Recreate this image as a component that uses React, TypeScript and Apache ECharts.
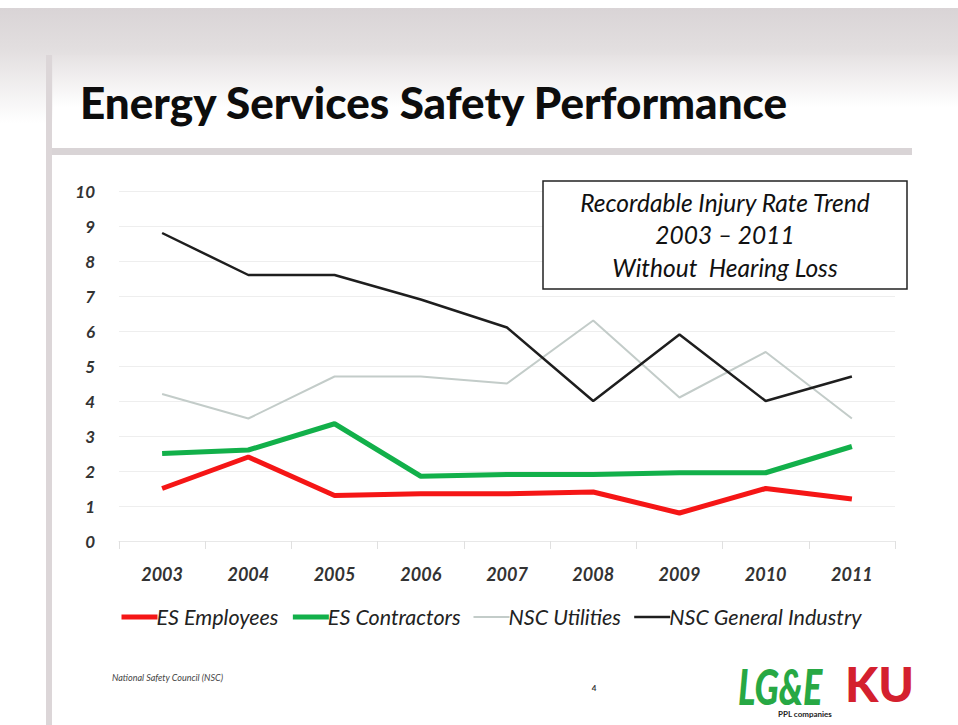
import React, { useEffect, useRef } from "react";
import * as echarts from "echarts";

const years = ["2003", "2004", "2005", "2006", "2007", "2008", "2009", "2010", "2011"];
const esEmployees = [1.5, 2.4, 1.3, 1.35, 1.35, 1.4, 0.8, 1.5, 1.2];
const esContractors = [2.5, 2.6, 3.35, 1.85, 1.9, 1.9, 1.95, 1.95, 2.7];
const nscUtilities = [4.2, 3.5, 4.7, 4.7, 4.5, 6.3, 4.1, 5.4, 3.5];
const nscGeneral = [8.8, 7.6, 7.6, 6.9, 6.1, 4.0, 5.9, 4.0, 4.7];
const boxLines = ["Recordable Injury Rate Trend", "2003 \u2013 2011", "Without  Hearing Loss"];

const FONT = "Lato, 'Open Sans', sans-serif";

export default function App() {
  const ref = useRef<HTMLDivElement>(null);
  useEffect(() => {
    document.body.style.margin = "0";
    const chart = echarts.init(ref.current!, undefined, { renderer: "svg" });
    const mk = (name: string, data: number[], color: string, width: number) => ({
      name,
      type: "line",
      data,
      symbol: "none",
      showSymbol: false,
      lineStyle: { color, width },
      itemStyle: { color },
      z: 5,
    });
    chart.setOption({
      animation: false,
      backgroundColor: "#ffffff",
      grid: { left: 119, right: 63, top: 191, bottom: 184 },
      xAxis: {
        type: "category",
        data: years,
        boundaryGap: true,
        axisLine: { show: true, lineStyle: { color: "#e8e8e8", width: 1 } },
        axisTick: { show: true, length: 8, lineStyle: { color: "#e0e0e0" } },
        axisLabel: {
          margin: 24,
          fontFamily: FONT,
          fontStyle: "italic",
          fontWeight: "bold",
          fontSize: 18,
          color: "#333333",
        },
      },
      yAxis: {
        type: "value",
        min: 0,
        max: 10,
        interval: 1,
        axisLine: { show: false },
        axisTick: { show: false },
        splitLine: { lineStyle: { color: "#eeeeee", width: 1 } },
        axisLabel: {
          margin: 24,
          fontFamily: FONT,
          fontStyle: "italic",
          fontWeight: "bold",
          fontSize: 17,
          color: "#333333",
        },
      },
      legend: {
        top: 601,
        left: 114,
        itemWidth: 36,
        itemHeight: 14,
        itemGap: 12,
        itemStyle: { opacity: 0 },
        textStyle: {
          fontFamily: FONT,
          fontStyle: "italic",
          fontSize: 21.5,
          color: "#222222",
          padding: [0, 0, 0, -6],
        },
        data: [
          { name: "ES Employees", lineStyle: { width: 5 } },
          { name: "ES Contractors", lineStyle: { width: 5 } },
          { name: "NSC Utilities", lineStyle: { width: 2 } },
          { name: "NSC General Industry", lineStyle: { width: 2.5 } },
        ],
      },
      series: [
        mk("ES Employees", esEmployees, "#f51616", 5),
        mk("ES Contractors", esContractors, "#12b04a", 5),
        mk("NSC Utilities", nscUtilities, "#c3ccc9", 2),
        mk("NSC General Industry", nscGeneral, "#1e1e1e", 2.5),
      ],
      graphic: [
        {
          type: "rect",
          silent: true,
          z: -10,
          shape: { x: 0, y: 8, width: 958, height: 115 },
          style: {
            fill: new echarts.graphic.LinearGradient(0, 0, 0, 1, [
              { offset: 0, color: "#d9d4d6" },
              { offset: 0.35, color: "#e2dedf" },
              { offset: 1, color: "#ffffff" },
            ]),
          },
        },
        {
          type: "rect",
          silent: true,
          z: -9,
          shape: { x: 53, y: 55, width: 905, height: 95 },
          style: {
            fill: new echarts.graphic.LinearGradient(0, 0, 0, 1, [
              { offset: 0, color: "#e6e2e3" },
              { offset: 0.55, color: "#ffffff" },
              { offset: 1, color: "#ffffff" },
            ]),
          },
        },
        {
          type: "rect",
          silent: true,
          z: -8,
          shape: { x: 46, y: 55, width: 6, height: 670 },
          style: { fill: "#dcd6d8" },
        },
        {
          type: "rect",
          silent: true,
          z: -8,
          shape: { x: 52, y: 148, width: 860, height: 7 },
          style: { fill: "#d9d4d6" },
        },
        {
          type: "text",
          x: 80,
          y: 102,
          style: {
            text: "Energy Services Safety Performance",
            fontFamily: FONT,
            fontWeight: 900,
            fontSize: 44,
            fill: "#0d0d0d",
            textVerticalAlign: "middle",
          },
        },
        {
          type: "rect",
          z: 10,
          shape: { x: 543, y: 181, width: 364, height: 108 },
          style: { fill: "#ffffff", stroke: "#222222", lineWidth: 1.5 },
        },
        ...boxLines.map((t, i) => ({
          type: "text",
          z: 11,
          x: 725,
          y: 202 + i * 32.5,
          style: {
            text: t,
            fontFamily: FONT,
            fontStyle: "italic",
            fontSize: 24.5,
            fill: "#111111",
            textAlign: "center",
            textVerticalAlign: "middle",
          },
        })),
        {
          type: "text",
          x: 112,
          y: 677,
          style: {
            text: "National Safety Council (NSC)",
            fontFamily: FONT,
            fontStyle: "italic",
            fontSize: 9,
            fill: "#444444",
            textVerticalAlign: "middle",
          },
        },
        {
          type: "text",
          x: 594,
          y: 688,
          style: {
            text: "4",
            fontFamily: FONT,
            fontWeight: "bold",
            fontSize: 8,
            fill: "#333333",
            textAlign: "center",
            textVerticalAlign: "middle",
          },
        },
        {
          type: "text",
          x: 738,
          y: 685,
          scaleX: 0.72,
          style: {
            text: "LG&E",
            fontFamily: FONT,
            fontStyle: "italic",
            fontWeight: 900,
            fontSize: 50,
            fill: "#27a844",
            textVerticalAlign: "middle",
          },
        },
        {
          type: "text",
          x: 845,
          y: 683,
          style: {
            text: "KU",
            fontFamily: FONT,
            fontWeight: 900,
            fontSize: 48,
            fill: "#d4202e",
            textVerticalAlign: "middle",
          },
        },
        {
          type: "text",
          x: 805,
          y: 714,
          style: {
            text: "PPL companies",
            fontFamily: FONT,
            fontWeight: "bold",
            fontSize: 8,
            fill: "#222222",
            textAlign: "center",
            textVerticalAlign: "middle",
          },
        },
      ],
    });
    return () => chart.dispose();
  }, []);
  return <div ref={ref} style={{ width: 958, height: 725, position: "absolute", left: 0, top: 0 }} />;
}
